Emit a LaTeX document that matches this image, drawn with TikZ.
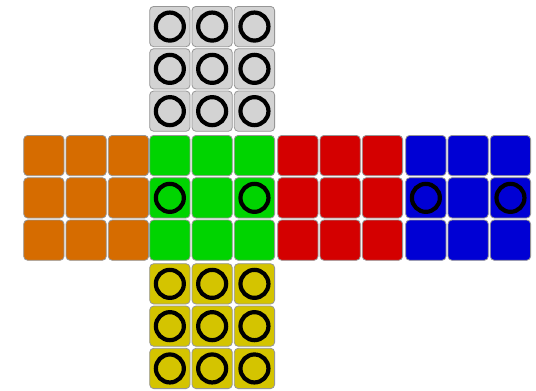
\documentclass[tikz,border=0pt]{standalone}
\definecolor{cgray}{RGB}{211,211,211}
\definecolor{corange}{RGB}{214,108,0}
\definecolor{cgreen}{RGB}{0,212,0}
\definecolor{cred}{RGB}{212,0,0}
\definecolor{cblue}{RGB}{0,0,212}
\definecolor{cyellow}{RGB}{212,196,0}
\definecolor{cedge}{RGB}{150,150,150}
\begin{document}
\begin{tikzpicture}[x=1bp,y=-1bp,
  cell/.style={draw=cedge, line width=0.8bp, rounded corners=4bp, minimum size=40.3bp, inner sep=0pt, anchor=north west},
  ring/.style={draw=black, line width=4.2bp, circle, minimum size=28bp, inner sep=0pt}]
\useasboundingbox (0,0) rectangle (536,390);
\fill[white] (0,0) rectangle (536,390);
\foreach \f/\fx/\fy/\col in {U/149.3/6/cgray, L/23.3/135/corange, F/149.3/135/cgreen, R/277.3/135/cred, B/405.3/135/cblue, D/149.3/263.3/cyellow}{
  \foreach \i in {0,1,2}{
    \foreach \j in {0,1,2}{
      \node[cell, fill=\col] (\f\i\j) at ({\fx+\i*42.3},{\fy+\j*42.3}) {};
    }
  }
}
\foreach \c in {U00,U10,U20,U01,U11,U21,U02,U12,U22,D00,D10,D20,D01,D11,D21,D02,D12,D22,F01,F21,B01,B21}{
  \node[ring] (r\c) at (\c.center) {};
}
\end{tikzpicture}
\end{document}
